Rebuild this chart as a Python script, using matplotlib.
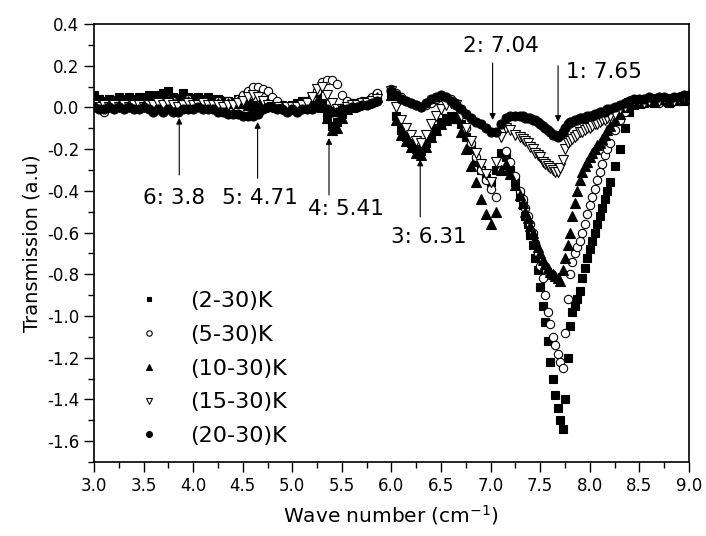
import matplotlib
matplotlib.use("Agg")
import matplotlib.pyplot as plt
from matplotlib.ticker import MultipleLocator, FormatStrFormatter

plt.rcParams['font.family'] = ['DejaVu Sans']
plt.rcParams['axes.unicode_minus'] = False

# wave number samples (cm^-1), two measured windows with a gap near 5.9
x_left = [3.00, 3.05, 3.10, 3.15, 3.20, 3.25, 3.30, 3.35, 3.40, 3.45,
          3.50, 3.55, 3.60, 3.65, 3.70, 3.75, 3.80, 3.85, 3.90, 3.95,
          4.00, 4.05, 4.10, 4.15, 4.20, 4.25, 4.30, 4.35, 4.40, 4.45,
          4.50, 4.55, 4.60, 4.65, 4.70, 4.75, 4.80, 4.85, 4.90, 4.95,
          5.00, 5.05, 5.10, 5.15, 5.20, 5.25, 5.30, 5.35, 5.40, 5.45,
          5.50, 5.55, 5.60, 5.65, 5.70, 5.75, 5.80, 5.85]
x_right = [6.00, 6.05, 6.10, 6.15, 6.20, 6.25, 6.30, 6.35, 6.40, 6.45,
           6.50, 6.55, 6.60, 6.65, 6.70, 6.75, 6.80, 6.85, 6.90, 6.95,
           7.00, 7.05, 7.10, 7.15, 7.20, 7.25,
           7.30, 7.325, 7.35, 7.375, 7.40, 7.425, 7.45, 7.475, 7.50, 7.525,
           7.55, 7.575, 7.60, 7.625, 7.65, 7.675, 7.70, 7.725, 7.75, 7.775,
           7.80, 7.825, 7.85, 7.875, 7.90, 7.925, 7.95, 7.975, 8.00, 8.025,
           8.05, 8.075, 8.10, 8.125, 8.15, 8.175,
           8.20, 8.25, 8.30, 8.35, 8.40, 8.45, 8.50, 8.55, 8.60, 8.65,
           8.70, 8.75, 8.80, 8.85, 8.90, 8.95, 9.00]

# (2-30)K
k2_left = [0.06, 0.04, 0.03, 0.04, 0.03, 0.05, 0.04, 0.05, 0.04, 0.05,
           0.05, 0.06, 0.05, 0.06, 0.07, 0.08, 0.05, 0.03, 0.07, 0.05,
           0.04, 0.05, 0.04, 0.05, 0.04, 0.04, 0.03, 0.03, 0.02, 0.04,
           0.03, 0.02, 0.01, 0.00, 0.01, 0.02, 0.02, 0.01, 0.01, 0.00,
           0.01, 0.02, 0.03, 0.03, 0.04, 0.06, 0.02, -0.04, -0.09, -0.07,
           -0.03, 0.00, 0.01, 0.02, 0.02, 0.03, 0.04, 0.06]
k2_right = [0.07, -0.04, -0.11, -0.14, -0.17, -0.20, -0.21, -0.17, -0.13, -0.10,
            -0.07, -0.05, -0.04, -0.04, -0.08, -0.14, -0.20, -0.26, -0.30, -0.34,
            -0.36, -0.30, -0.22, -0.24, -0.30, -0.36,
            -0.43, -0.47, -0.52, -0.56, -0.61, -0.66, -0.72, -0.78, -0.86, -0.95,
            -1.03, -1.12, -1.22, -1.30, -1.38, -1.44, -1.50, -1.54, -1.40, -1.20,
            -1.05, -0.98, -0.95, -0.92, -0.88, -0.82, -0.77, -0.72, -0.68, -0.64,
            -0.60, -0.56, -0.52, -0.48, -0.44, -0.40,
            -0.36, -0.28, -0.20, -0.10, -0.02, 0.01, 0.02, 0.02, 0.03, 0.02,
            0.03, 0.03, 0.02, 0.03, 0.04, 0.03, 0.04]

# (5-30)K
k5_left = [0.02, 0.01, -0.02, 0.00, 0.01, 0.02, 0.01, 0.02, 0.02, 0.01,
           0.02, 0.02, 0.03, 0.02, 0.03, 0.02, 0.03, 0.02, 0.03, 0.04,
           0.03, 0.02, 0.03, 0.03, 0.02, 0.03, 0.02, 0.03, 0.02, 0.04,
           0.06, 0.08, 0.10, 0.10, 0.09, 0.08, 0.05, 0.03, 0.01, 0.00,
           0.00, 0.00, 0.01, 0.02, 0.04, 0.08, 0.12, 0.13, 0.13, 0.11,
           0.06, 0.03, 0.02, 0.02, 0.03, 0.03, 0.05, 0.07]
k5_right = [0.09, 0.07, 0.05, 0.03, 0.02, 0.01, 0.00, 0.01, 0.02, 0.04,
            0.05, 0.05, 0.04, 0.02, -0.03, -0.10, -0.17, -0.24, -0.30, -0.35,
            -0.39, -0.43, -0.30, -0.21, -0.26, -0.33,
            -0.40, -0.44, -0.48, -0.52, -0.56, -0.60, -0.65, -0.70, -0.76, -0.82,
            -0.90, -0.98, -1.04, -1.10, -1.14, -1.18, -1.22, -1.25, -1.08, -0.92,
            -0.80, -0.74, -0.70, -0.67, -0.64, -0.60, -0.56, -0.51, -0.47, -0.43,
            -0.39, -0.35, -0.31, -0.27, -0.23, -0.20,
            -0.17, -0.11, -0.06, -0.02, 0.01, 0.03, 0.03, 0.02, 0.03, 0.03,
            0.02, 0.03, 0.03, 0.04, 0.03, 0.04, 0.04]

# (10-30)K
k10_left = [0.03, 0.02, 0.00, 0.02, 0.03, 0.02, 0.03, 0.04, 0.03, 0.02,
            0.04, 0.03, 0.04, 0.03, 0.04, 0.03, 0.02, 0.04, 0.05, 0.03,
            0.04, 0.03, 0.03, 0.04, 0.03, 0.02, 0.03, 0.02, 0.02, 0.03,
            0.02, 0.01, 0.00, -0.01, 0.00, 0.01, 0.01, 0.00, 0.00, -0.01,
            0.00, 0.01, 0.01, 0.02, 0.02, 0.03, 0.00, -0.05, -0.11, -0.10,
            -0.05, -0.01, 0.00, 0.01, 0.02, 0.02, 0.03, 0.05]
k10_right = [0.06, -0.06, -0.13, -0.16, -0.19, -0.22, -0.23, -0.19, -0.14, -0.11,
             -0.08, -0.06, -0.05, -0.05, -0.12, -0.20, -0.28, -0.36, -0.44, -0.51,
             -0.56, -0.50, -0.30, -0.27, -0.32, -0.37,
             -0.42, -0.46, -0.50, -0.53, -0.57, -0.60, -0.64, -0.67, -0.70, -0.73,
             -0.75, -0.77, -0.79, -0.80, -0.81, -0.82, -0.83, -0.78, -0.72, -0.66,
             -0.60, -0.52, -0.46, -0.40, -0.35, -0.31, -0.28, -0.26, -0.24, -0.22,
             -0.20, -0.18, -0.17, -0.15, -0.13, -0.11,
             -0.09, -0.06, -0.03, 0.00, 0.02, 0.03, 0.02, 0.03, 0.04, 0.03,
             0.04, 0.04, 0.03, 0.04, 0.05, 0.04, 0.05]

# (15-30)K
k15_left = [0.01, 0.00, 0.01, 0.00, 0.01, 0.00, 0.01, 0.00, 0.01, 0.01,
            0.00, 0.01, 0.01, 0.02, 0.01, 0.02, 0.01, 0.00, 0.01, 0.02,
            0.01, 0.01, 0.02, 0.01, 0.01, 0.01, 0.00, 0.01, 0.01, 0.02,
            0.03, 0.05, 0.06, 0.05, 0.03, 0.01, 0.00, 0.00, -0.01, 0.00,
            0.00, 0.00, 0.01, 0.02, 0.05, 0.09, 0.10, 0.06, 0.02, -0.01,
            -0.01, 0.00, 0.01, 0.01, 0.02, 0.02, 0.03, 0.04]
k15_right = [0.08, 0.00, -0.06, -0.10, -0.13, -0.16, -0.17, -0.13, -0.08, -0.04,
             -0.01, 0.01, 0.02, 0.01, -0.04, -0.10, -0.16, -0.22, -0.27, -0.32,
             -0.36, -0.26, -0.14, -0.10, -0.11, -0.13,
             -0.14, -0.15, -0.16, -0.17, -0.19, -0.20, -0.22, -0.23, -0.24, -0.26,
             -0.27, -0.28, -0.29, -0.30, -0.31, -0.31, -0.29, -0.25, -0.20, -0.17,
             -0.16, -0.15, -0.14, -0.13, -0.12, -0.12, -0.11, -0.10, -0.10, -0.09,
             -0.08, -0.08, -0.07, -0.06, -0.06, -0.05,
             -0.04, -0.03, -0.01, 0.00, 0.02, 0.03, 0.03, 0.02, 0.03, 0.04,
             0.03, 0.04, 0.04, 0.03, 0.04, 0.05, 0.04]

# (20-30)K
k20_left = [0.00, -0.01, -0.01, 0.00, -0.01, 0.00, -0.01, 0.00, -0.01, -0.01,
            0.00, -0.01, -0.02, -0.01, -0.02, -0.01, -0.02, -0.02, -0.01, -0.01,
            -0.01, 0.00, -0.01, -0.01, -0.01, -0.02, -0.02, -0.03, -0.03, -0.03,
            -0.04, -0.04, -0.04, -0.03, -0.01, 0.00, 0.00, -0.01, -0.01, -0.02,
            -0.01, -0.02, -0.01, -0.01, -0.01, 0.00, 0.00, -0.01, -0.02, -0.02,
            -0.01, -0.01, 0.00, 0.00, 0.01, 0.01, 0.02, 0.03]
k20_right = [0.08, 0.06, 0.04, 0.03, 0.02, 0.01, 0.00, 0.02, 0.04, 0.05,
             0.06, 0.05, 0.03, 0.01, -0.01, -0.03, -0.05, -0.07, -0.08, -0.10,
             -0.12, -0.12, -0.08, -0.05, -0.04, -0.04,
             -0.04, -0.04, -0.05, -0.05, -0.05, -0.06, -0.06, -0.07, -0.08, -0.09,
             -0.10, -0.11, -0.12, -0.13, -0.13, -0.14, -0.13, -0.12, -0.10, -0.08,
             -0.07, -0.07, -0.06, -0.06, -0.05, -0.05, -0.05, -0.04, -0.04, -0.04,
             -0.03, -0.03, -0.02, -0.02, -0.02, -0.01,
             -0.01, 0.00, 0.01, 0.02, 0.03, 0.04, 0.04, 0.04, 0.05, 0.04,
             0.05, 0.05, 0.04, 0.05, 0.05, 0.06, 0.06]

labels = ['(2-30)K', '(5-30)K', '(10-30)K', '(15-30)K', '(20-30)K']
left_sets = [k2_left, k5_left, k10_left, k15_left, k20_left]
right_sets = [k2_right, k5_right, k10_right, k15_right, k20_right]
styles = [dict(marker='s', mfc='k', ms=5.5),
          dict(marker='o', mfc='white', ms=6),
          dict(marker='^', mfc='k', ms=6.5),
          dict(marker='v', mfc='white', ms=6.5),
          dict(marker='o', mfc='k', ms=6.5)]

# peak markers: label, arrow x, arrow tip y, arrow tail y, text x, text y
peak_names = ['1: 7.65', '2: 7.04', '3: 6.31', '4: 5.41', '5: 4.71', '6: 3.8']
peak_x = [7.68, 7.02, 6.29, 5.37, 4.65, 3.86]
peak_tip = [-0.07, -0.06, -0.25, -0.147, -0.07, -0.05]
peak_tail = [0.20, 0.213, -0.525, -0.42, -0.34, -0.324]
peak_text_x = [8.14, 7.10, 6.38, 5.54, 4.67, 3.81]
peak_text_y = [0.17, 0.295, -0.62, -0.487, -0.435, -0.435]

fig = plt.figure(figsize=(7.06, 5.36), dpi=100)
ax = fig.add_axes([0.1331, 0.1381, 0.8428, 0.8172])

for lab, yl, yr, st in zip(labels, left_sets, right_sets, styles):
    ax.plot(x_left, yl, ls='none', mec='k', mew=0.8, label=lab, **st)
    ax.plot(x_right, yr, ls='none', mec='k', mew=0.8, **st)

for name, px, tip, tail, tx, ty in zip(peak_names, peak_x, peak_tip, peak_tail,
                                       peak_text_x, peak_text_y):
    ax.annotate('', xy=(px, tip), xytext=(px, tail),
                arrowprops=dict(arrowstyle='-|>', color='k', lw=0.8,
                                mutation_scale=9, shrinkA=0, shrinkB=0))
    ax.text(tx, ty, name, fontsize=15.5, ha='center', va='center')

ax.set_xlim(3.0, 9.0)
ax.set_ylim(-1.7, 0.4)
ax.xaxis.set_major_locator(MultipleLocator(0.5))
ax.xaxis.set_minor_locator(MultipleLocator(0.25))
ax.yaxis.set_major_locator(MultipleLocator(0.2))
ax.yaxis.set_minor_locator(MultipleLocator(0.1))
ax.xaxis.set_major_formatter(FormatStrFormatter('%.1f'))
ax.yaxis.set_major_formatter(FormatStrFormatter('%.1f'))
ax.tick_params(which='major', direction='out', length=7, width=1, labelsize=12)
ax.tick_params(which='minor', direction='out', length=4, width=1)
for sp in ax.spines.values():
    sp.set_linewidth(1.2)

ax.set_xlabel('Wave number (cm$^{-1}$)', fontsize=14.5, labelpad=6)
ax.set_ylabel('Transmission (a.u)', fontsize=14, labelpad=4)

ax.legend(loc='upper left', bbox_to_anchor=(0.076, 0.39), frameon=False,
          fontsize=16, markerscale=0.65, handlelength=0.9, handletextpad=1.4,
          labelspacing=0.62, borderpad=0, borderaxespad=0, numpoints=1)

fig.savefig('out.png', dpi=100)
